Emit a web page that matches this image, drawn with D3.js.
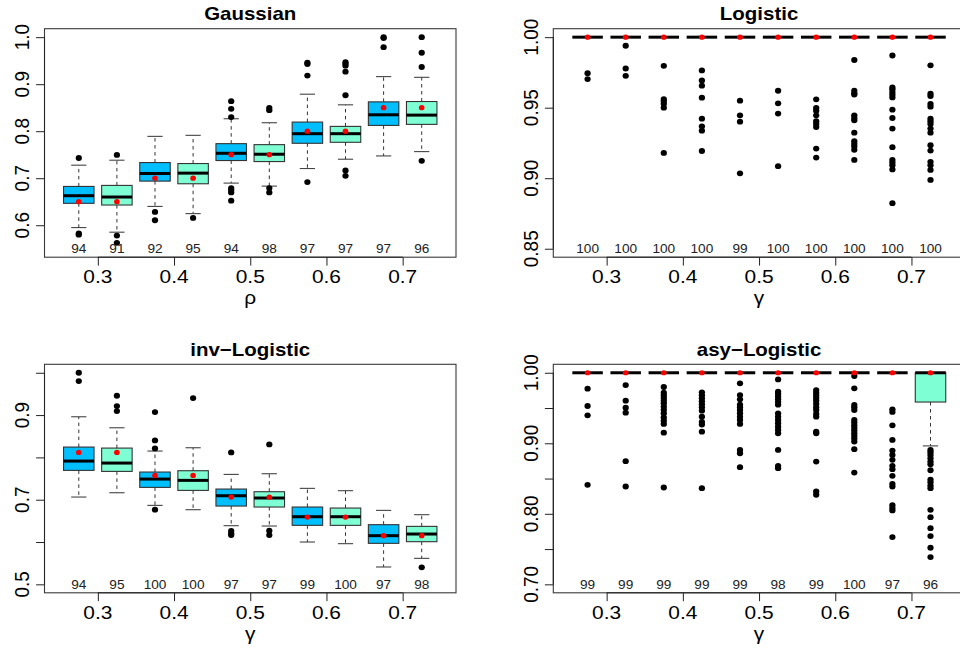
<!DOCTYPE html>
<html>
<head>
<meta charset="utf-8">
<script src="https://cdn.jsdelivr.net/npm/d3@7"></script>
<style>
  body { margin: 0; background: #fff; }
  svg { display: block; }
  text { font-family: "Liberation Sans", Arial, Helvetica, sans-serif; }
</style>
</head>
<body>
<svg id="chart" width="960" height="649"></svg>
<script>
// ---- data ----------------------------------------------------------
const positions = [0.275, 0.325, 0.375, 0.425, 0.475, 0.525, 0.575, 0.625, 0.675, 0.725];
const xTicks = [0.3, 0.4, 0.5, 0.6, 0.7];
const boxFills = ["#00BFFF", "#7FFFD4"];

// box statistics: [lower whisker, Q1, median, Q3, upper whisker]
const gaussStats = [
  [0.595, 0.6466, 0.6628, 0.6825, 0.7277],
  [0.5852, 0.643, 0.660, 0.6847, 0.7383],
  [0.640, 0.6938, 0.710, 0.7333, 0.789],
  [0.6247, 0.6882, 0.7108, 0.7312, 0.7912],
  [0.6896, 0.7376, 0.753, 0.7735, 0.8265],
  [0.6832, 0.7354, 0.751, 0.7714, 0.818],
  [0.7206, 0.7743, 0.7947, 0.8194, 0.8787],
  [0.7404, 0.7764, 0.7947, 0.8102, 0.8561],
  [0.7474, 0.8123, 0.8349, 0.8624, 0.9161],
  [0.7566, 0.8145, 0.8342, 0.8631, 0.9146]
];
const gaussOut = [
  [0.743, 0.5824, 0.580],
  [0.7496, 0.578, 0.5626],
  [0.6282, 0.6106],
  [0.6155],
  [0.8638, 0.8476, 0.830, 0.679, 0.6748, 0.6698, 0.6522],
  [0.8497, 0.8448, 0.679, 0.6698],
  [0.9457, 0.9429, 0.9182, 0.6917],
  [0.947, 0.9436, 0.9393, 0.9266, 0.8765, 0.7164, 0.7051],
  [1.0, 0.998, 0.9788],
  [1.0, 0.9668, 0.9365, 0.7369]
];
const gaussTruth = [0.65, 0.65, 0.70, 0.70, 0.75, 0.75, 0.80, 0.80, 0.85, 0.85];
const gaussCounts = [94, 91, 92, 95, 94, 98, 97, 97, 97, 96];

const logiStats = [
  [1, 1, 1, 1, 1], [1, 1, 1, 1, 1], [1, 1, 1, 1, 1], [1, 1, 1, 1, 1], [1, 1, 1, 1, 1],
  [1, 1, 1, 1, 1], [1, 1, 1, 1, 1], [1, 1, 1, 1, 1], [1, 1, 1, 1, 1], [1, 1, 1, 1, 1]
];
const logiOut = [
  [0.9745, 0.9703],
  [0.9939, 0.9778, 0.9726],
  [0.9797, 0.9561, 0.9547, 0.9528, 0.95, 0.9179],
  [0.9764, 0.9693, 0.9656, 0.9571, 0.9422, 0.9368, 0.9337, 0.9193],
  [0.955, 0.9446, 0.9401, 0.9035],
  [0.962, 0.9531, 0.9458, 0.9085],
  [0.9559, 0.9498, 0.9479, 0.9446, 0.9404, 0.9385, 0.9363, 0.921, 0.9146],
  [0.9838, 0.962, 0.9602, 0.9593, 0.9446, 0.9427, 0.9411, 0.9323, 0.9262, 0.9243, 0.9224, 0.9201, 0.913],
  [0.987, 0.9644, 0.963, 0.9611, 0.9592, 0.9573, 0.9486, 0.9427, 0.9352, 0.922, 0.913, 0.9111, 0.9092, 0.9062, 0.8823],
  [0.98, 0.9599, 0.9583, 0.9526, 0.9507, 0.9422, 0.9404, 0.9385, 0.9352, 0.9323, 0.9234, 0.9196, 0.9116, 0.9092, 0.9059, 0.8988]
];
const logiTruth = [1, 1, 1, 1, 1, 1, 1, 1, 1, 1];
const logiCounts = [100, 100, 100, 100, 99, 100, 100, 100, 100, 100];

const invStats = [
  [0.7063, 0.7693, 0.7913, 0.8244, 0.896],
  [0.7165, 0.7669, 0.7866, 0.822, 0.870],
  [0.6866, 0.7291, 0.7488, 0.7654, 0.815],
  [0.6764, 0.722, 0.7457, 0.7685, 0.8228],
  [0.6386, 0.685, 0.7094, 0.7252, 0.7598],
  [0.6378, 0.6827, 0.704, 0.7189, 0.7614],
  [0.600, 0.6394, 0.6598, 0.6827, 0.7268],
  [0.5961, 0.6394, 0.6598, 0.6803, 0.7213],
  [0.541, 0.5969, 0.615, 0.641, 0.6748],
  [0.5614, 0.6008, 0.6189, 0.637, 0.6646]
];
const invOut = [
  [1.0, 0.9803],
  [0.9457, 0.9213, 0.9094],
  [0.9071, 0.8402, 0.8213, 0.6764],
  [0.9402],
  [0.8118, 0.626, 0.62, 0.6165],
  [0.8307, 0.6268, 0.6165],
  [],
  [],
  [],
  [0.5402]
];
const invTruth = [0.8118, 0.8118, 0.7575, 0.7575, 0.7063, 0.7063, 0.659, 0.659, 0.615, 0.615];
const invCounts = [94, 95, 100, 100, 97, 97, 99, 100, 97, 98];

const asyStats = [
  [1, 1, 1, 1, 1], [1, 1, 1, 1, 1], [1, 1, 1, 1, 1], [1, 1, 1, 1, 1], [1, 1, 1, 1, 1],
  [1, 1, 1, 1, 1], [1, 1, 1, 1, 1], [1, 1, 1, 1, 1], [1, 1, 1, 1, 1],
  [0.8963, 0.9585, 1.0, 1.0, 1.0]
];
const asyOut = [
  [0.9774, 0.9529, 0.9397, 0.8411],
  [0.9826, 0.9604, 0.9505, 0.9434, 0.8746, 0.8387],
  [0.9798, 0.9717, 0.968, 0.9642, 0.9604, 0.9567, 0.9519, 0.9472, 0.9425, 0.9368, 0.9321, 0.9274, 0.9151, 0.8373],
  [0.9722, 0.968, 0.9637, 0.9595, 0.9552, 0.951, 0.9463, 0.9378, 0.9302, 0.9265, 0.9165, 0.8364],
  [0.985, 0.9684, 0.9623, 0.9548, 0.951, 0.9472, 0.9425, 0.9378, 0.9331, 0.9274, 0.8906, 0.8859, 0.8661],
  [0.9906, 0.9732, 0.9699, 0.9661, 0.9623, 0.9585, 0.9548, 0.9425, 0.9378, 0.9331, 0.9284, 0.9236, 0.9189, 0.9142, 0.8906, 0.868, 0.8647],
  [0.9755, 0.9717, 0.968, 0.9642, 0.9604, 0.9557, 0.951, 0.9472, 0.9416, 0.9378, 0.9165, 0.9142, 0.8741, 0.8317, 0.827],
  [0.9953, 0.9779, 0.9543, 0.951, 0.9472, 0.9331, 0.9293, 0.9255, 0.9218, 0.918, 0.9142, 0.9104, 0.9067, 0.9024, 0.8916, 0.8585],
  [0.9482, 0.9444, 0.9255, 0.9048, 0.8897, 0.8835, 0.8765, 0.868, 0.8633, 0.8538, 0.8425, 0.8387, 0.8123, 0.8081, 0.8048, 0.767],
  [0.8906, 0.8873, 0.8835, 0.8788, 0.8741, 0.8703, 0.8618, 0.8486, 0.8448, 0.8401, 0.8363, 0.8057, 0.7953, 0.7797, 0.7684, 0.7519, 0.7387]
];
const asyTruth = [1, 1, 1, 1, 1, 1, 1, 1, 1, 1];
const asyCounts = [99, 99, 99, 99, 99, 98, 99, 100, 97, 96];

// ---- panel setup ----------------------------------------------------
const panels = [
  { title: "Gaussian", xlab: "\u03c1", stats: gaussStats, out: gaussOut, truth: gaussTruth, counts: gaussCounts,
    ylim: [0.55, 1.0], yTicks: [0.6, 0.7, 0.8, 0.9, 1.0], yLabeled: [0.6, 0.7, 0.8, 0.9, 1.0], fmt: d3.format(".1f"),
    left: 44.5, top: 28.7 },
  { title: "Logistic", xlab: "\u03b3", stats: logiStats, out: logiOut, truth: logiTruth, counts: logiCounts,
    ylim: [0.85, 1.0], yTicks: [0.85, 0.90, 0.95, 1.00], yLabeled: [0.85, 0.90, 0.95, 1.00], fmt: d3.format(".2f"),
    left: 553.3, top: 28.7 },
  { title: "inv\u2212Logistic", xlab: "\u03b3", stats: invStats, out: invOut, truth: invTruth, counts: invCounts,
    ylim: [0.5, 1.0], yTicks: [0.5, 0.6, 0.7, 0.8, 0.9, 1.0], yLabeled: [0.5, 0.7, 0.9], fmt: d3.format(".1f"),
    left: 44.5, top: 364.3 },
  { title: "asy\u2212Logistic", xlab: "\u03b3", stats: asyStats, out: asyOut, truth: asyTruth, counts: asyCounts,
    ylim: [0.70, 1.0], yTicks: [0.70, 0.75, 0.80, 0.85, 0.90, 0.95, 1.00], yLabeled: [0.70, 0.80, 0.90, 1.00], fmt: d3.format(".2f"),
    left: 553.3, top: 364.3 }
];

const plotW = 411.5, plotH = 228.5;
const xDomain = [0.23, 0.77];
const boxWidth = 0.04;          // in x units
const sx = 1.1;                 // horizontal glyph stretch
const lineCol = "#333";

const svg = d3.select("#chart");

panels.forEach(p => {
  const g = svg.append("g");
  const L = p.left, T = p.top, R = L + plotW, B = T + plotH;
  const span = p.ylim[1] - p.ylim[0];
  const x = d3.scaleLinear().domain(xDomain).range([L, R]);
  const y = d3.scaleLinear().domain([p.ylim[0] - 0.04 * span, p.ylim[1] + 0.04 * span]).range([B, T]);

  // frame
  g.append("rect").attr("x", L).attr("y", T).attr("width", plotW).attr("height", plotH)
    .attr("fill", "none").attr("stroke", "#3a3a3a").attr("stroke-width", 1.1);

  // x axis
  const xAxis = d3.axisBottom(x).tickValues(xTicks).tickSize(8.4).tickFormat("");
  const xg = g.append("g").attr("transform", `translate(0,${B})`).call(xAxis);
  xg.select(".domain").attr("stroke", "#222").attr("d", `M${x(xTicks[0])},0H${x(xTicks[xTicks.length - 1])}`);
  xg.selectAll(".tick line").attr("stroke", "#222");
  g.selectAll(".xlab").data(xTicks).enter().append("text")
    .attr("transform", d => `translate(${x(d)},${B + 25.8}) scale(${sx},1)`)
    .attr("text-anchor", "middle").attr("font-size", 19).attr("fill", "#000")
    .text(d3.format(".1f"));

  // y axis
  const yAxis = d3.axisLeft(y).tickValues(p.yTicks).tickSize(8.4).tickFormat("");
  const yg = g.append("g").attr("transform", `translate(${L},0)`).call(yAxis);
  yg.select(".domain").attr("stroke", "#222").attr("d", `M0,${y(p.yTicks[0])}V${y(p.yTicks[p.yTicks.length - 1])}`);
  yg.selectAll(".tick line").attr("stroke", "#222");
  g.selectAll(".ylab").data(p.yLabeled).enter().append("text")
    .attr("transform", d => `translate(${L - 15.8},${y(d)}) rotate(-90) scale(1,${sx})`)
    .attr("text-anchor", "middle").attr("font-size", 19).attr("fill", "#000")
    .text(p.fmt);

  // titles
  g.append("text")
    .attr("transform", `translate(${(L + R) / 2},${T - 8.5}) scale(${sx},1)`)
    .attr("text-anchor", "middle").attr("font-size", 18.6).attr("font-weight", "bold").attr("fill", "#000")
    .text(p.title);
  g.append("text")
    .attr("transform", `translate(${(L + R) / 2},${B + 47.2}) scale(${sx},1)`)
    .attr("text-anchor", "middle").attr("font-size", 19).attr("fill", "#000")
    .text(p.xlab);

  // boxes
  const hw = (x(positions[0] + boxWidth / 2) - x(positions[0]));
  p.stats.forEach((s, i) => {
    const cx = x(positions[i]);
    const [lw, q1, med, q3, uw] = s;
    const bg = g.append("g");
    // whiskers
    bg.append("line").attr("x1", cx).attr("x2", cx).attr("y1", y(q3)).attr("y2", y(uw))
      .attr("stroke", lineCol).attr("stroke-dasharray", "3.5,3.5");
    bg.append("line").attr("x1", cx).attr("x2", cx).attr("y1", y(q1)).attr("y2", y(lw))
      .attr("stroke", lineCol).attr("stroke-dasharray", "3.5,3.5");
    // caps
    [lw, uw].forEach(v => {
      bg.append("line").attr("x1", cx - hw / 2).attr("x2", cx + hw / 2).attr("y1", y(v)).attr("y2", y(v))
        .attr("stroke", "#444").attr("stroke-width", 1.1);
    });
    // box
    bg.append("rect").attr("x", cx - hw).attr("y", y(q3)).attr("width", 2 * hw)
      .attr("height", Math.max(0, y(q1) - y(q3)))
      .attr("fill", boxFills[i % 2]).attr("stroke", lineCol).attr("stroke-width", 1.1);
    // median
    bg.append("line").attr("x1", cx - hw).attr("x2", cx + hw).attr("y1", y(med)).attr("y2", y(med))
      .attr("stroke", "#000").attr("stroke-width", 3);
  });

  // outliers
  p.out.forEach((arr, i) => {
    g.selectAll(null).data(arr).enter().append("ellipse")
      .attr("cx", x(positions[i])).attr("cy", d => y(d))
      .attr("rx", 2.9 * 1.08).attr("ry", 2.9).attr("fill", "#000");
  });

  // true values
  g.selectAll(".truth").data(p.truth).enter().append("ellipse")
    .attr("cx", (d, i) => x(positions[i])).attr("cy", d => y(d))
    .attr("rx", 2.6 * 1.08).attr("ry", 2.6).attr("fill", "#FF0000");

  // counts
  g.selectAll(".cnt").data(p.counts).enter().append("text")
    .attr("transform", (d, i) => `translate(${x(positions[i])},${y(p.ylim[0]) + 4.4}) scale(${sx},1)`)
    .attr("text-anchor", "middle").attr("font-size", 12.4).attr("fill", "#222")
    .text(d => d);
});
</script>
</body>
</html>
